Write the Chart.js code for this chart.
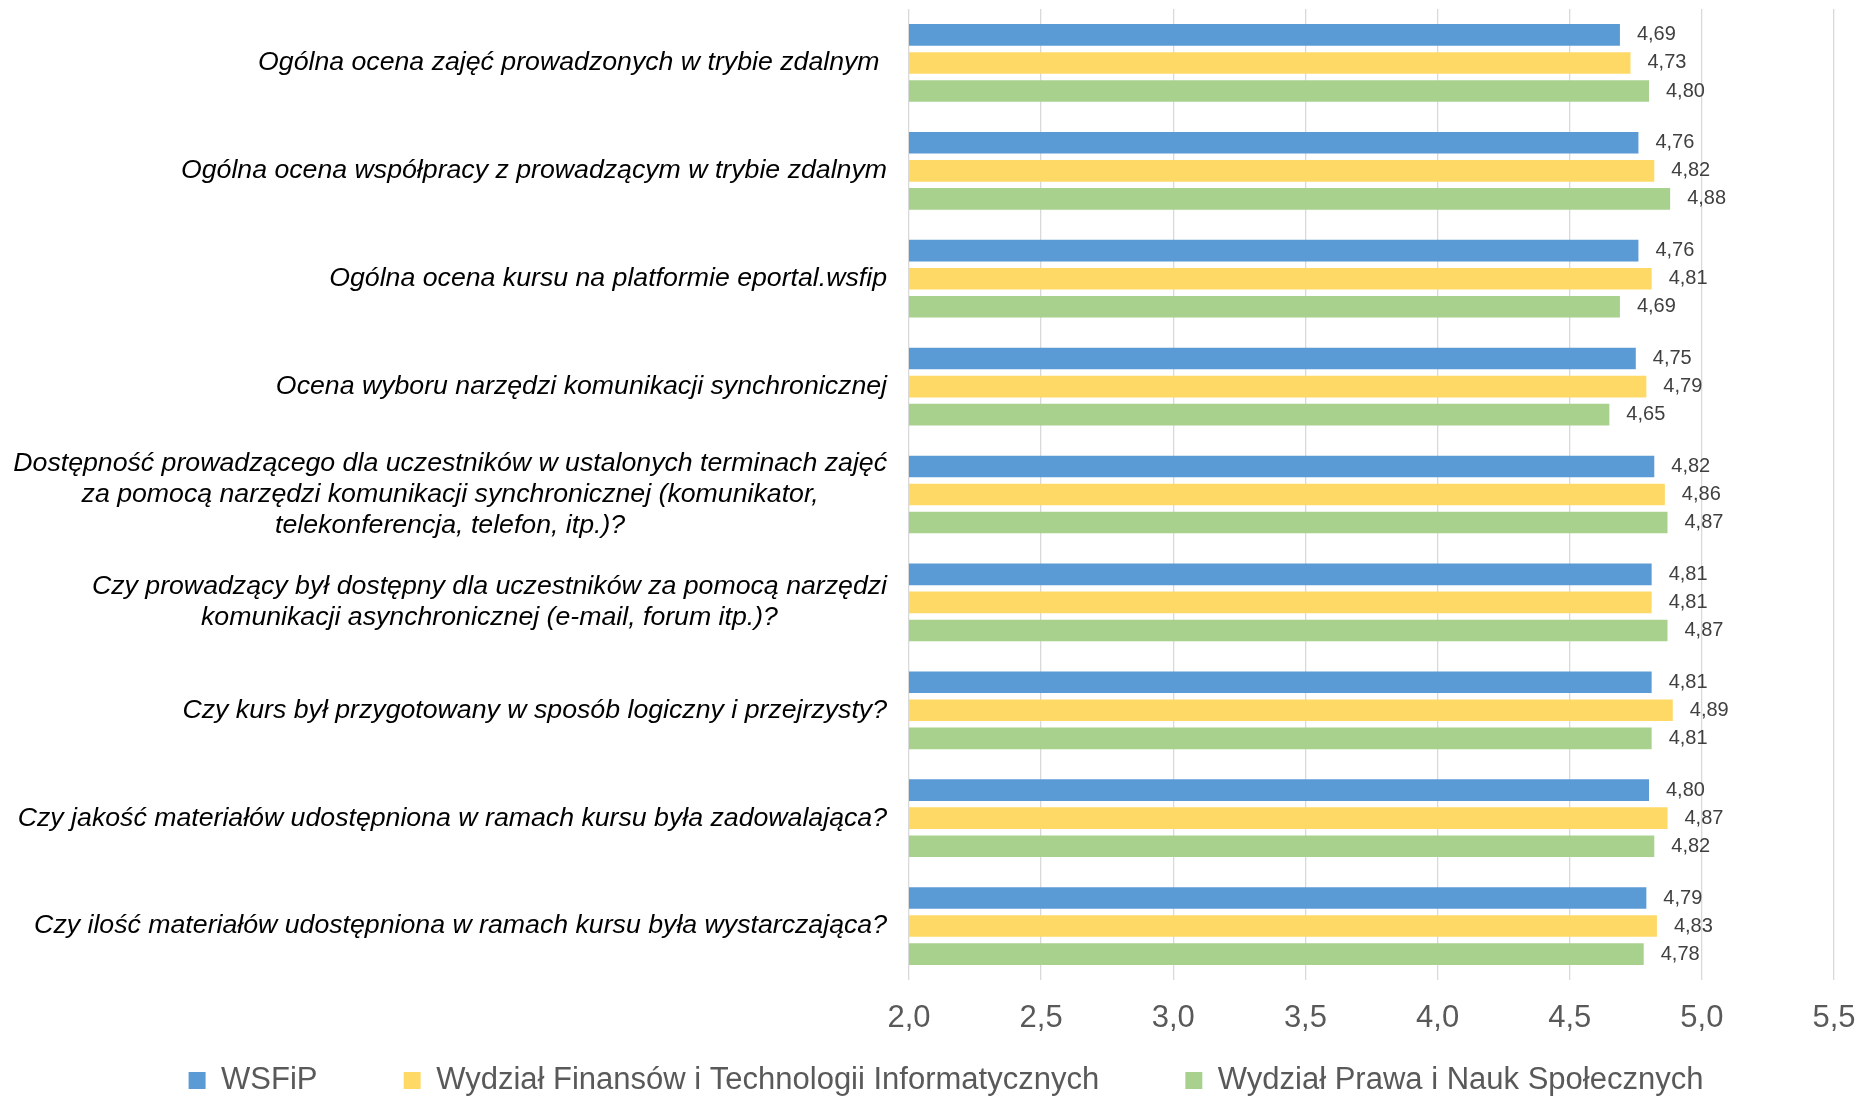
<!DOCTYPE html>
<html>
<head>
<meta charset="utf-8">
<script src="https://cdn.jsdelivr.net/npm/chart.js@4.4.0/dist/chart.umd.min.js"></script>
<style>
  html, body { margin: 0; padding: 0; background: #fff; }
</style>
</head>
<body>
<canvas id="chart" width="1859" height="1096"></canvas>
<script>
// categories (questions), top to bottom
const questions = [
  "Ogólna ocena zajęć prowadzonych w trybie zdalnym ",
  "Ogólna ocena współpracy z prowadzącym w trybie zdalnym",
  "Ogólna ocena kursu na platformie eportal.wsfip",
  "Ocena wyboru narzędzi komunikacji synchronicznej",
  ["Dostępność prowadzącego dla uczestników w ustalonych terminach zajęć",
   "za pomocą narzędzi komunikacji synchronicznej (komunikator,",
   "telekonferencja, telefon, itp.)?"],
  ["Czy prowadzący był dostępny dla uczestników za pomocą narzędzi",
   "komunikacji asynchronicznej (e-mail, forum itp.)?"],
  "Czy kurs był przygotowany w sposób logiczny i przejrzysty?",
  "Czy jakość materiałów udostępniona w ramach kursu była zadowalająca?",
  "Czy ilość materiałów udostępniona w ramach kursu była wystarczająca?"
];

const seriesNames = [
  "WSFiP",
  "Wydział Finansów i Technologii Informatycznych",
  "Wydział Prawa i Nauk Społecznych"
];

const wsfip = [4.69, 4.76, 4.76, 4.75, 4.82, 4.81, 4.81, 4.80, 4.79];
const wfiti = [4.73, 4.82, 4.81, 4.79, 4.86, 4.81, 4.89, 4.87, 4.83];
const wpins = [4.80, 4.88, 4.69, 4.65, 4.87, 4.87, 4.81, 4.82, 4.78];

const xMin = 2.0;
const xMax = 5.5;
const xStep = 0.5;

const colors = ["#5B9BD5", "#FFD966", "#A9D18E"];
const fontFamily = "'Liberation Sans', Arial, sans-serif";

Chart.defaults.font.family = fontFamily;

const comma = (v, d) => Number(v).toFixed(d).replace('.', ',');

// question labels drawn left of the plot, lines centred within each block
const questionLabels = {
  id: 'questionLabels',
  afterDraw(chart) {
    const ctx = chart.ctx;
    const yScale = chart.scales.y;
    const right = chart.chartArea.left - 22;
    const lineH = 31;
    ctx.save();
    ctx.font = 'italic 26.7px ' + fontFamily;
    ctx.fillStyle = '#000';
    ctx.textAlign = 'center';
    ctx.textBaseline = 'middle';
    questions.forEach((q, i) => {
      const lines = Array.isArray(q) ? q : [q];
      const w = Math.max(...lines.map(l => ctx.measureText(l).width));
      const cx = right - w / 2;
      const cy = yScale.getPixelForTick(i);
      lines.forEach((l, j) => {
        ctx.fillText(l, cx, cy + (j - (lines.length - 1) / 2) * lineH);
      });
    });
    ctx.restore();
  }
};

// value labels at bar ends
const valueLabels = {
  id: 'valueLabels',
  afterDatasetsDraw(chart) {
    const ctx = chart.ctx;
    ctx.save();
    ctx.font = '20px ' + fontFamily;
    ctx.fillStyle = '#404040';
    ctx.textAlign = 'left';
    ctx.textBaseline = 'middle';
    chart.data.datasets.forEach((ds, di) => {
      const meta = chart.getDatasetMeta(di);
      meta.data.forEach((bar, i) => {
        ctx.fillText(comma(ds.data[i], 2), bar.x + 17, bar.y);
      });
    });
    ctx.restore();
  }
};

const datasets = [wsfip, wfiti, wpins].map((data, i) => ({
  label: seriesNames[i],
  data: data,
  backgroundColor: colors[i],
  borderWidth: 0,
  barPercentage: 0.77,
  categoryPercentage: 0.78
}));

new Chart(document.getElementById('chart'), {
  type: 'bar',
  data: {
    labels: questions,
    datasets: datasets
  },
  options: {
    indexAxis: 'y',
    responsive: false,
    animation: false,
    devicePixelRatio: 1,
    layout: {
      padding: { top: 9, right: 25, bottom: -10, left: 58 }
    },
    scales: {
      x: {
        min: xMin,
        max: xMax,
        ticks: {
          stepSize: xStep,
          color: '#595959',
          font: { size: 31 },
          padding: 20,
          callback: v => comma(v, 1)
        },
        grid: { color: '#D9D9D9', lineWidth: 1.3, drawTicks: false },
        border: { display: false },
        afterFit: s => {
          s.height = 85;
          s.paddingLeft = 0;
          s.paddingRight = 0;
        }
      },
      y: {
        ticks: { display: false },
        grid: { display: false },
        border: { display: false },
        afterFit: s => { s.width = 851; }
      }
    },
    plugins: {
      tooltip: { enabled: false },
      legend: {
        position: 'bottom',
        labels: {
          color: '#595959',
          font: { size: 31 },
          boxWidth: 17,
          boxHeight: 17,
          padding: 0,
          generateLabels(chart) {
            const items = Chart.defaults.plugins.legend.labels.generateLabels(chart);
            items.forEach((it, i) => {
              if (i < items.length - 1) it.text += '          ';
            });
            return items;
          }
        }
      }
    }
  },
  plugins: [questionLabels, valueLabels]
});
</script>
</body>
</html>
